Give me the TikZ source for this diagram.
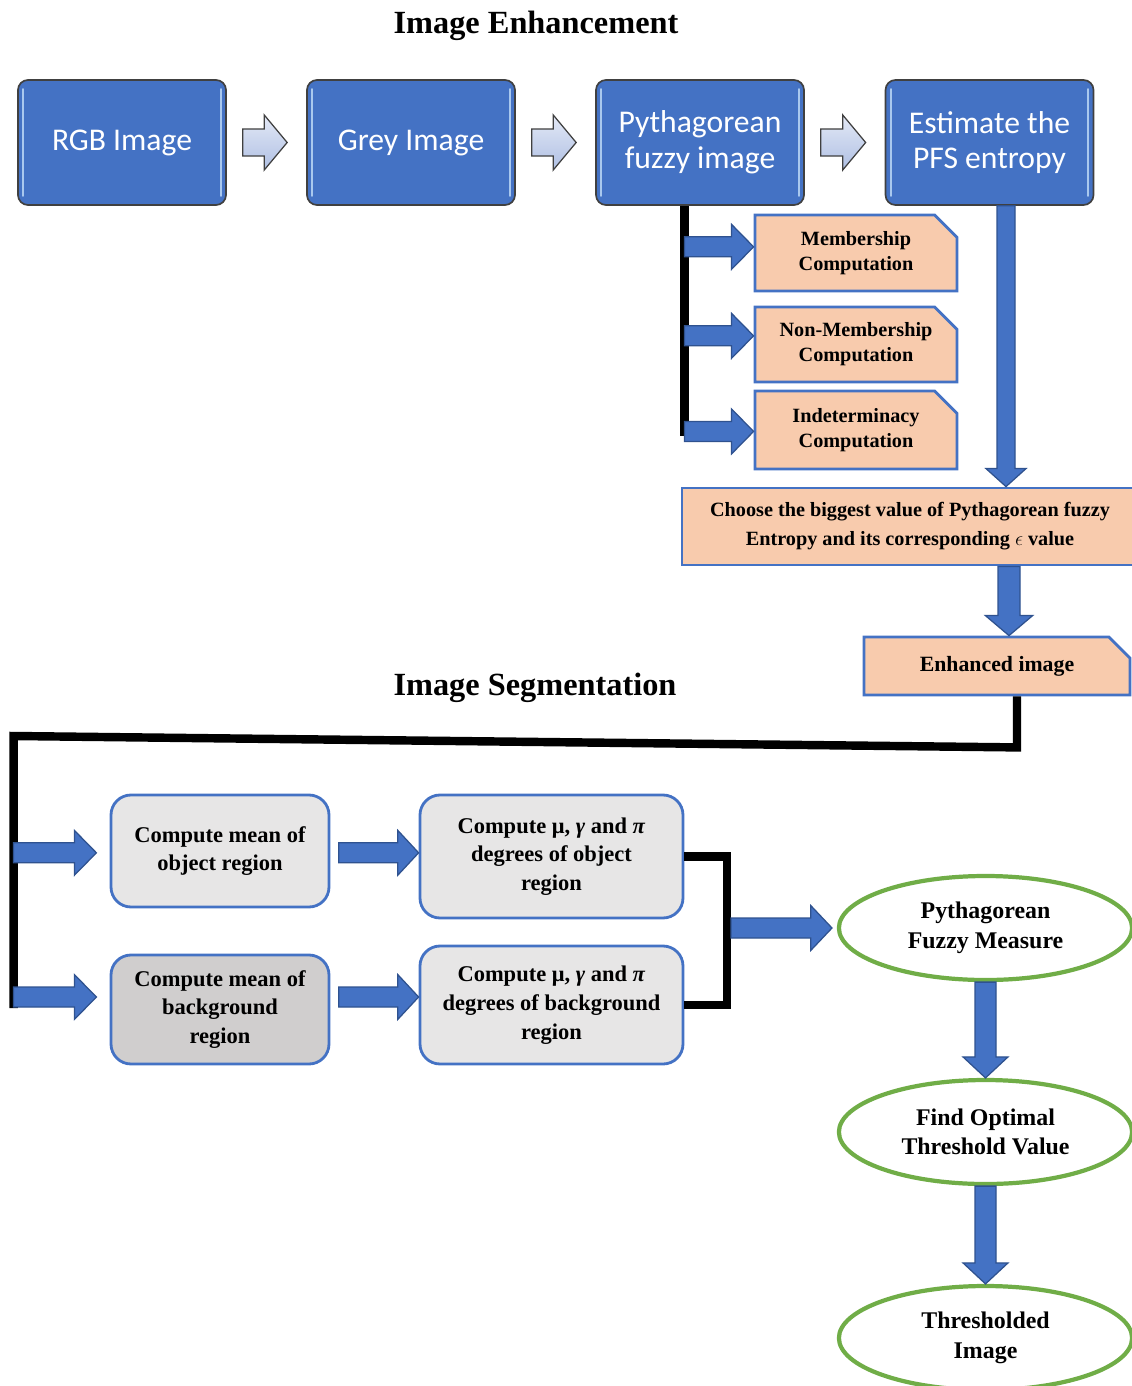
\documentclass[tikz,border=0pt]{standalone}
\usepackage{fontspec}
\setmainfont{Liberation Serif}
\newfontfamily\calibri{Carlito}
\usepackage{tikz}
\usetikzlibrary{calc,shapes.misc,shapes.geometric}
\definecolor{stageblue}{HTML}{4472C4}
\definecolor{arrowedge}{HTML}{2F528F}
\definecolor{glintblue}{HTML}{A9C8EE}
\definecolor{peach}{HTML}{F8CBAD}
\definecolor{panelgrey}{HTML}{E7E6E6}
\definecolor{paneldark}{HTML}{D0CECE}
\definecolor{ovalgreen}{HTML}{70AD47}
\definecolor{chevtop}{HTML}{E4E9F6}
\definecolor{chevbot}{HTML}{AEBFE3}
\newcommand{\harrow}[6][blockarrow]{%
  \draw[#1] ($(#2)+(0,#4)$) -- ($(#3)+(-#6,#4)$) -- ($(#3)+(-#6,#5)$) -- (#3)
    -- ($(#3)+(-#6,-#5)$) -- ($(#3)+(-#6,-#4)$) -- ($(#2)+(0,-#4)$) -- cycle;}
\newcommand{\varrow}[6][blockarrow]{%
  \draw[#1] ($(#2)+(#4,0)$) -- ($(#3)+(#4,#6)$) -- ($(#3)+(#5,#6)$) -- (#3)
    -- ($(#3)+(-#5,#6)$) -- ($(#3)+(-#4,#6)$) -- ($(#2)+(-#4,0)$) -- cycle;}

\begin{document}
\begin{tikzpicture}[
  stage/.style={draw=black!75, line width=1.2pt, fill=stageblue, rounded corners=0.25cm,
    minimum width=5.2cm, minimum height=3.125cm, inner sep=0pt, align=center,
    text=white, font=\calibri\fontsize{22.5}{25.5}\selectfont},
  glint/.style={glintblue, line width=1.4pt, line cap=round},
  subbox/.style={shape=chamfered rectangle, chamfered rectangle corners=north east,
    chamfered rectangle xsep=0.28cm, chamfered rectangle ysep=0.28cm,
    draw=stageblue, line width=2pt, fill=peach, inner sep=0pt, align=center,
    minimum width=5.05cm, font=\bfseries\fontsize{14.4}{17.8}\selectfont},
  panel/.style={draw=stageblue, line width=2pt, fill=panelgrey, rounded corners=0.5cm,
    inner sep=0pt, align=center, font=\bfseries\fontsize{16}{20.5}\selectfont},
  oval/.style={ellipse, draw=ovalgreen, line width=3pt, fill=white, inner sep=0pt,
    minimum width=7.33cm, minimum height=2.6cm, align=center,
    font=\bfseries\fontsize{17}{21}\selectfont},
  heading/.style={font=\bfseries\fontsize{23}{27}\selectfont},
  blockarrow/.style={fill=stageblue, draw=arrowedge, line width=0.9pt},
  chevron/.style={top color=chevtop, bottom color=chevbot, draw=black!75, line width=0.9pt},
  bus/.style={line width=6pt}]
  \useasboundingbox (0,0) rectangle (28.3,-34.65);

  \node[heading] (enhtitle) at (13.4,-0.65) {Image Enhancement};
  \node[stage] (rgb) at (3.05,-3.5625) {RGB Image};
  \node[stage] (grey) at (10.275,-3.5625) {Grey Image};
  \node[stage] (pfi) at (17.5,-3.5625) {Pythagorean\\fuzzy image};
  \node[stage] (pfs) at (24.7375,-3.5625) {Estimate the\\PFS entropy};
  \foreach \n in {rgb,grey,pfi,pfs}{
    \draw[glint] ($(\n.north west)+(0.15,-0.25)$) -- ($(\n.south west)+(0.15,0.25)$);
    \draw[glint] ($(\n.north east)+(-0.15,-0.25)$) -- ($(\n.south east)+(-0.15,0.25)$);
  }
  \foreach \a/\b in {rgb/grey,grey/pfi,pfi/pfs}{
    \coordinate (ct) at ($(\a.east)+(0.4,0)$);
    \coordinate (cp) at ($(\b.west)+(-0.475,0)$);
    \harrow[chevron]{ct}{cp}{0.34}{0.69}{0.575}
  }

  \node[subbox, minimum height=1.9cm] (mem) at (21.4,-6.325) {Membership\\Computation};
  \node[subbox, minimum height=1.875cm] (nonmem) at (21.4,-8.6125) {Non-Membership\\Computation};
  \node[subbox, minimum height=1.95cm] (ind) at (21.4,-10.75) {Indeterminacy\\Computation};
  \coordinate (busA) at ($(pfi.south)+(-0.39,0)$);
  \coordinate (busB) at ($(busA)+(0,-5.75)$);
  \draw[bus] (busA) -- (busB);
  \foreach \n/\d in {mem/-1.025,nonmem/-3.25,ind/-5.64}{
    \coordinate (ct) at ($(busA)+(0,\d)$);
    \coordinate (cp) at (\n.west |- ct);
    \harrow{ct}{cp}{0.25}{0.56}{0.55}
  }

  \node[subbox, shape=rectangle, minimum width=11.4cm, minimum height=1.925cm,
    font=\bfseries\fontsize{14.4}{20.5}\selectfont] (choose) at (22.75,-13.1625)
    {Choose the biggest value of Pythagorean fuzzy\\Entropy and its corresponding $\epsilon$ value};
  \coordinate (ct) at ($(pfs.south)+(0.4125,0)$);
  \coordinate (cp) at (ct |- choose.north);
  \varrow{ct}{cp}{0.225}{0.5}{0.45}

  \node[subbox, minimum width=6.65cm, minimum height=1.45cm,
    font=\bfseries\fontsize{15.5}{18}\selectfont] (enh) at (24.925,-16.65) {Enhanced image};
  \coordinate (ct) at ($(choose.south)+(2.475,0)$);
  \coordinate (cp) at (ct |- enh.north);
  \varrow{ct}{cp}{0.275}{0.59}{0.5}

  \node[heading] (segtitle) at (13.375,-17.2) {Image Segmentation};
  \coordinate (fbA) at ($(enh.south)+(0.5,0)$);
  \coordinate (fbB) at ($(fbA)+(0,-1.275)$);
  \coordinate (fbC) at (0.34,-18.4);
  \coordinate (fbD) at (0.34,-25.2);
  \draw[bus] (fbA) -- (fbB) -- (fbC) -- (fbD);

  \node[panel, minimum width=5.45cm, minimum height=2.8cm] (objmean) at (5.5,-21.275)
    {Compute mean of\\object region};
  \node[panel, fill=paneldark, minimum width=5.45cm, minimum height=2.725cm] (bgmean) at (5.5,-25.2375)
    {Compute mean of\\background\\region};
  \node[panel, minimum width=6.575cm, minimum height=3.075cm] (objdeg) at (13.7875,-21.4125)
    {Compute μ, \textit{γ} and \textit{π}\\degrees of object\\region};
  \node[panel, minimum width=6.575cm, minimum height=2.95cm] (bgdeg) at (13.7875,-25.125)
    {Compute μ, \textit{γ} and \textit{π}\\degrees of background\\region};
  \coordinate (rowA) at (0,-21.32);
  \coordinate (rowB) at (0,-24.925);
  \foreach \r/\a/\b in {rowA/objmean/objdeg,rowB/bgmean/bgdeg}{
    \coordinate (ct) at (fbD |- \r);
    \coordinate (cp) at ($(\a.west |- \r)+(-0.33,0)$);
    \harrow{ct}{cp}{0.25}{0.56}{0.55}
    \coordinate (ct) at ($(\a.east |- \r)+(0.21,0)$);
    \coordinate (cp) at (\b.west |- \r);
    \harrow{ct}{cp}{0.25}{0.56}{0.52}
  }
  \draw[bus] (objdeg.east) -- ++(1.06,0) |- (bgdeg.east);

  \node[oval] (pfm) at (24.6375,-23.2) {Pythagorean\\Fuzzy Measure};
  \node[oval] (opt) at (24.6375,-28.3) {Find Optimal\\Threshold Value};
  \node[oval] (thr) at (24.6375,-33.45) {Thresholded\\Image};
  \coordinate (cp) at ($(pfm.west)+(-0.12,0)$);
  \coordinate (ct) at ($(cp)+(-2.525,0)$);
  \harrow{ct}{cp}{0.25}{0.56}{0.53}
  \varrow{pfm.south}{opt.north}{0.2625}{0.5625}{0.525}
  \varrow{opt.south}{thr.north}{0.2625}{0.5625}{0.525}
\end{tikzpicture}
\end{document}
